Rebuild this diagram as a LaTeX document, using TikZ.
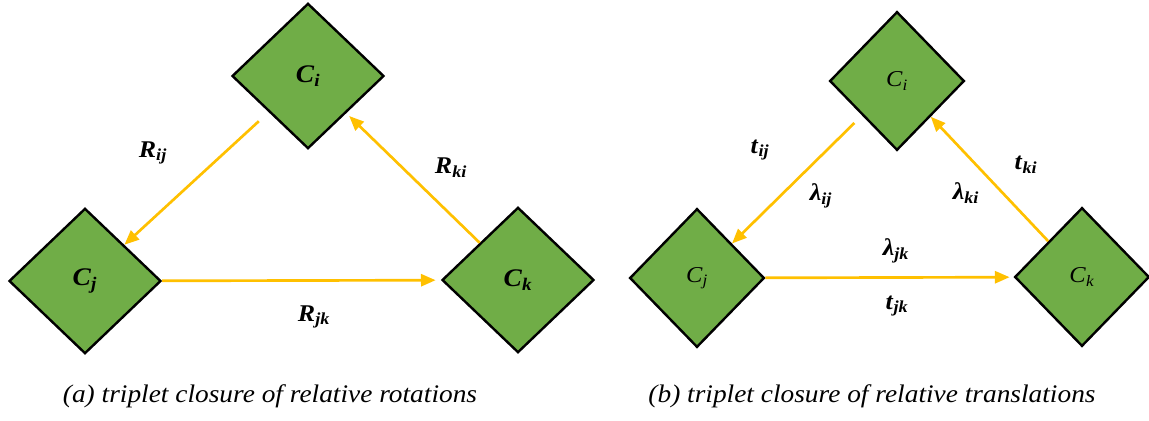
\documentclass[tikz,border=0pt]{standalone}
\usepackage{fontspec}
\setmainfont[FakeStretch=1.08]{Liberation Serif}
\usetikzlibrary{positioning,arrows.meta,shapes.geometric}
\definecolor{camgreen}{RGB}{112,173,71}
\definecolor{edgegold}{RGB}{255,192,0}
\newcommand{\bsub}[2]{\textbf{\textit{#1}}\textsubscript{\textbf{\textit{#2}}}}
\newcommand{\isub}[2]{\textit{#1}\textsubscript{\textit{#2}}}

\begin{document}
\begin{tikzpicture}[x=0.75pt, y=-0.75pt, >={Triangle[length=11pt,width=9pt]}]

% camera diamonds, relative edges, labels
\tikzset{cam/.style={diamond, draw=black, line width=1.8pt, fill=camgreen, inner sep=0pt,
                     minimum width=114pt, minimum height=109pt, font=\fontsize{19}{22}\selectfont},
         camb/.style={cam, minimum width=101pt, minimum height=104pt, font=\fontsize{17}{20}\selectfont},
         rel/.style={->, draw=edgegold, line width=2pt},
         wl/.style={font=\fontsize{18}{21}\selectfont, inner sep=1pt},
         caption/.style={font=\fontsize{19}{23}\selectfont\itshape, inner sep=0pt}}

\useasboundingbox (0,0) rectangle (1149,421);

% -----------------------------------------
% (a) relative rotations
% -----------------------------------------
\node[cam] (ri) at (308,76)  {\bsub{C}{i}};
\node[cam] (rj) at (85,281)  {\bsub{C}{j}};
\node[cam] (rk) at (518,280) {\bsub{C}{k}};

\draw[rel, shorten <=10pt] (ri) -- (rj);
\draw[rel, shorten >=4pt]  (rj) -- (rk);
\draw[rel, shorten >=3pt]  (rk) -- (ri);

\node[wl] (rij) at (153,153) {\bsub{R}{ij}};
\node[wl] (rki) at (451,168) {\bsub{R}{ki}};
\node[wl] (rjk) at (314,317) {\bsub{R}{jk}};

\node[caption] (capa) at (270,396) {(a) triplet closure of relative rotations};

% -----------------------------------------
% (b) relative translations
% -----------------------------------------
\node[camb] (ti) at (897,81)  {\isub{C}{i}};
\node[camb] (tj) at (697,278) {\isub{C}{j}};
\node[camb] (tk) at (1082,277) {\isub{C}{k}};

\draw[rel, shorten <=8pt]  (ti) -- (tj);
\draw[rel, shorten >=3pt]  (tj) -- (tk);
\draw[rel]                 (tk) -- (ti);

\node[wl] (tij) at (760,150) {\bsub{t}{ij}};
\node[wl] (lij) at (821,196) {\bsub{λ}{ij}};
\node[wl] (lki) at (966,193) {\bsub{λ}{ki}};
\node[wl] (tki) at (1026,165) {\bsub{t}{ki}};
\node[wl] (ljk) at (896,251) {\bsub{λ}{jk}};
\node[wl] (tjk) at (897,306) {\bsub{t}{jk}};

\node[caption] (capb) at (872,396) {(b) triplet closure of relative translations};
\end{tikzpicture}
\end{document}
